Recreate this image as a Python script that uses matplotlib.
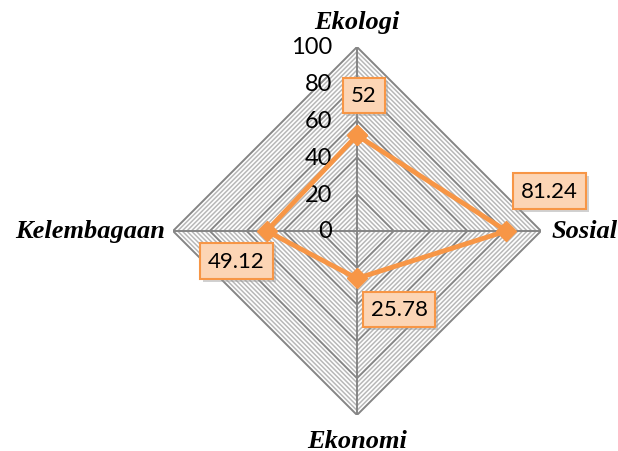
import numpy as np
import matplotlib.pyplot as plt

categories = ['Ekologi', 'Sosial', 'Ekonomi', 'Kelembagaan']
values = [52, 81.24, 25.78, 49.12]
value_labels = ['52', '81.24', '25.78', '49.12']
ticks = [0, 20, 40, 60, 80, 100]

W, H = 618, 452
cx, cy, R = 357, 232, 184

fig = plt.figure(figsize=(W / 100, H / 100), dpi=100)
ax = fig.add_axes([(cx - R) / W, (H - cy - R) / H, 2 * R / W, 2 * R / H],
                  projection='polar')
ax.set_theta_offset(np.pi / 2)
ax.set_theta_direction(-1)
ax.set_ylim(0, 100)
ax.grid(False)
ax.set_xticks([])
ax.set_yticks([])
ax.spines['polar'].set_visible(False)
ax.patch.set_visible(False)

angles = np.arange(len(categories)) * 2 * np.pi / len(categories)
closed = np.append(angles, 2 * np.pi)

# concentric diamonds: light every 2.5, dark every 20
for r in np.arange(2.5, 100.1, 2.5):
    major = r % 20 == 0
    ax.plot(closed, [r] * len(closed),
            color='#858585' if major else '#b8b8b8',
            lw=1.4 if major else 1.1, zorder=1 if not major else 2)
for a in angles:
    ax.plot([a, a], [0, 100], color='#858585', lw=1.4, zorder=2)

# tick labels left of the vertical axis
for t in ticks:
    ax.annotate(str(t), (0, t), xytext=(-25, 0), textcoords='offset pixels',
                ha='right', va='center', fontsize=17, family='Lato',
                color='#000000', annotation_clip=False)

# category labels
cat_pos = [(0, 209), (195, 0), (0, -210), (-192, 0)]
cat_ha = ['center', 'left', 'center', 'right']
for a, name, off, h in zip(angles, categories, cat_pos, cat_ha):
    ax.annotate(name, (a, 0), xytext=off, textcoords='offset pixels',
                ha=h, va='center', fontsize=19, family='Liberation Serif',
                fontweight='bold', fontstyle='italic', annotation_clip=False)

# data series
ax.plot(np.append(angles, 2 * np.pi), values + values[:1], color='#f79646',
        lw=3.5, marker='D', markersize=10, zorder=3)

# data labels
label_off = [(7, 40), (43, 40), (42, -31), (-30, -30)]
for a, v, s, off in zip(angles, values, value_labels, label_off):
    ax.annotate(s, (a, v), xytext=(off[0] + 3, off[1] - 3),
                textcoords='offset pixels', ha='center', va='center',
                fontsize=16, family='Lato', color='none', zorder=4,
                bbox=dict(boxstyle='square,pad=0.35', fc='#9a9a9a', ec='none',
                          alpha=0.45))
    ax.annotate(s, (a, v), xytext=off, textcoords='offset pixels',
                ha='center', va='center', fontsize=16, family='Lato',
                color='#000000', zorder=5,
                bbox=dict(boxstyle='square,pad=0.35', fc='#fcd5b5',
                          ec='#f79646', lw=1.5))

fig.savefig('out.png', dpi=100)
